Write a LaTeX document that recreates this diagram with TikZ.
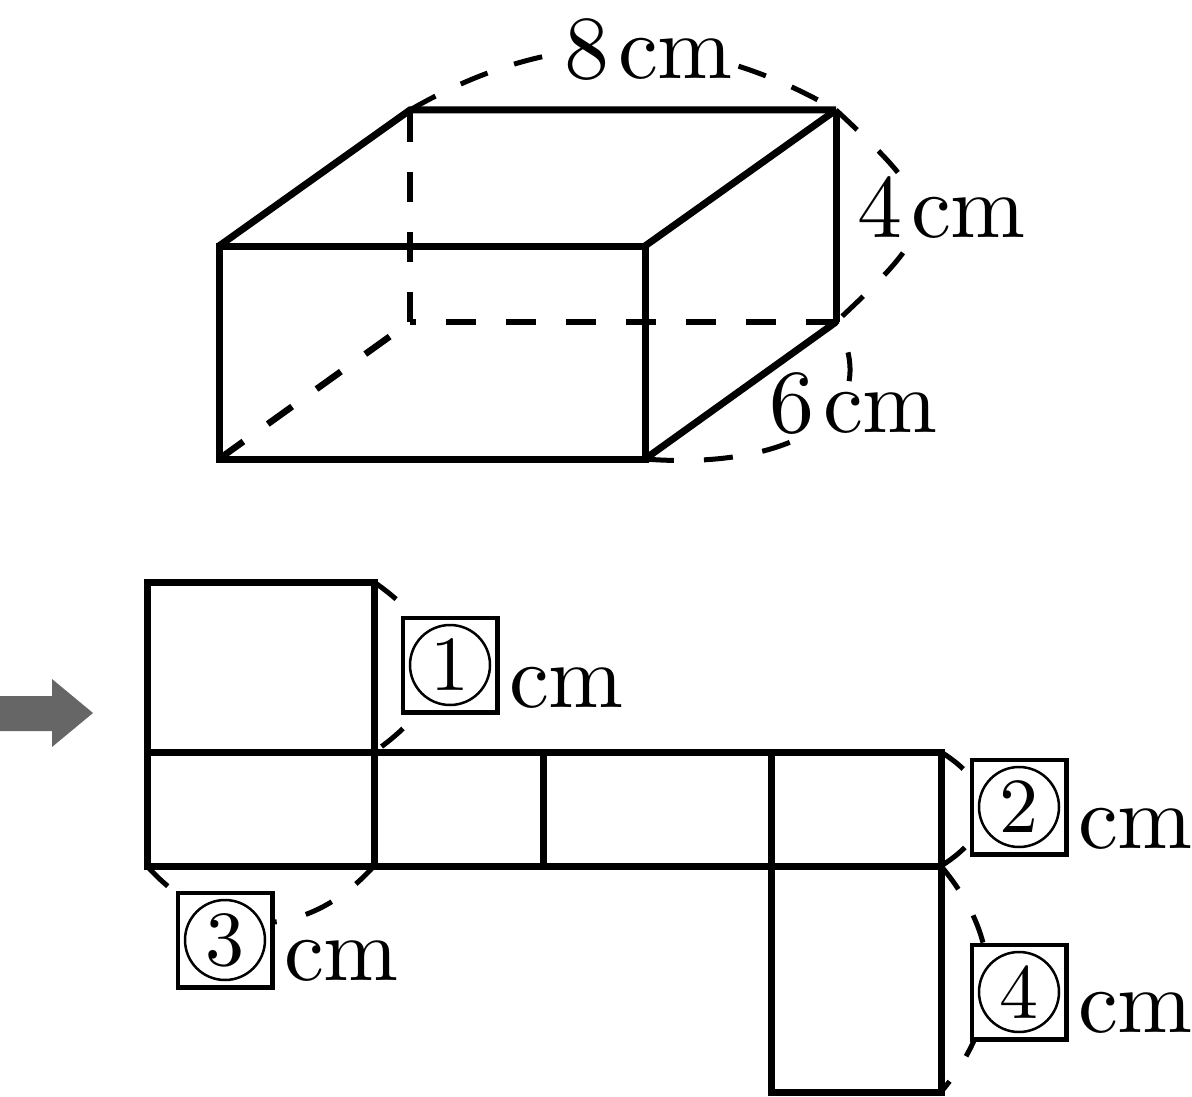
\documentclass[tikz,border=0pt]{standalone}
\usepackage{amsmath}
\usepackage{graphicx}
\usepackage{xcolor}
\definecolor{arrowgray}{HTML}{666666}
\newcommand{\ringnum}[1]{\scalebox{7.8}{#1}}

\begin{document}
\begin{tikzpicture}[x=1pt, y=-1pt, line join=miter,
	edge/.style={line width=7pt},
	hidden/.style={line width=6.5pt, dash pattern=on 30pt off 30pt},
	dimarc/.style={line width=5pt, dash pattern=on 29pt off 30pt},
	every node/.style={inner sep=0pt, outer sep=0pt},
	dimtext/.style={fill=white, scale=9, anchor=base west},
	unittext/.style={scale=9, anchor=base west},
	numbox/.style={draw, fill=white, line width=4.5pt, minimum size=94.5pt},
	numring/.style={draw, circle, line width=2.5pt, minimum size=80pt}]
  \useasboundingbox (0,0) rectangle (1192,1097);
  % box corners
  \coordinate (fbl) at (219,459);
  \coordinate (ftl) at (219,246);
  \coordinate (ftr) at (645,246);
  \coordinate (fbr) at (645,459);
  \coordinate (btl) at (410,110);
  \coordinate (btr) at (836,110);
  \coordinate (bbr) at (836,322);
  \coordinate (bbl) at (410,322);
  % net corners
  \coordinate (ta) at (147,582);
  \coordinate (tb) at (374,582);
  \coordinate (la) at (147,752);
  \coordinate (lb) at (374,752);
  \coordinate (lc) at (543,752);
  \coordinate (ld) at (771,752);
  \coordinate (le) at (941,752);
  \coordinate (ma) at (147,866);
  \coordinate (mb) at (374,866);
  \coordinate (mc) at (543,866);
  \coordinate (md) at (771,866);
  \coordinate (me) at (941,866);
  \coordinate (ba) at (771,1092);
  \coordinate (bb) at (941,1092);

  % dimension arcs
  \draw[dimarc, dash pattern=on 29pt off 28pt] (btl) to[bend left=30] (btr);
  \draw[dimarc] (btr) to[bend left=47, looseness=1.8] (bbr);
  \draw[dimarc] (fbr) .. controls (780,470) and (890,420) .. (bbr);
  \draw[dimarc, dash pattern=on 28pt off 32pt] (tb) to[bend left=55, looseness=1.5] (lb);
  \draw[dimarc, dash pattern=on 28pt off 31pt] (le) to[bend left=58, looseness=1.5] (me);
  \draw[dimarc] (ma) to[bend right=48, looseness=1.15] (mb);
  \draw[dimarc] (me) to[bend left=40, looseness=1.1] (bb);

  % labels
  \node[dimtext] (eight) at (564,79) {8\kern1pt cm};
  \node[dimtext] (four) at (857,237) {4\kern1pt cm};
  \node[dimtext, text height=5.6pt] (six) at (769,432) {6\kern1pt cm};
  \node[numbox] (boxa) at (450,665) {};
  \node[numring] (ringa) at (boxa) {\ringnum{1}};
  \node[unittext] (cma) at (509,707) {cm};
  \node[numbox] (boxb) at (1019,807) {};
  \node[numring] (ringb) at (boxb) {\ringnum{2}};
  \node[unittext] (cmb) at (1078,848) {cm};
  \node[numbox] (boxc) at (225,940) {};
  \node[numring] (ringc) at (boxc) {\ringnum{3}};
  \node[unittext] (cmc) at (284,980) {cm};
  \node[numbox] (boxd) at (1019,992) {};
  \node[numring] (ringd) at (boxd) {\ringnum{4}};
  \node[unittext] (cmd) at (1078,1032) {cm};

  % box
  \draw[hidden] (bbl) -- (btl);
  \draw[hidden] (bbr) -- (bbl);
  \draw[hidden] (fbl) -- (bbl);
  \draw[edge] (fbl) -- (ftl) -- (ftr) -- (fbr) -- cycle;
  \draw[edge] (ftl) -- (btl) -- (btr);
  \draw[edge] (btr) -- (ftr);
  \draw[edge] (btr) -- (bbr);
  \draw[edge] (bbr) -- (fbr);

  % net
  \draw[edge] (ta) -- (tb) -- (mb) -- (ma) -- cycle;
  \draw[edge] (la) -- (le) -- (me) -- (mb);
  \draw[edge] (lc) -- (mc);
  \draw[edge] (ld) -- (ba) -- (bb) -- (me);

  % arrow
  \fill[arrowgray] (0,696) -- (52,696) -- (52,679) -- (93,713) -- (52,747) -- (52,731) -- (0,731) -- cycle;
\end{tikzpicture}
\end{document}
